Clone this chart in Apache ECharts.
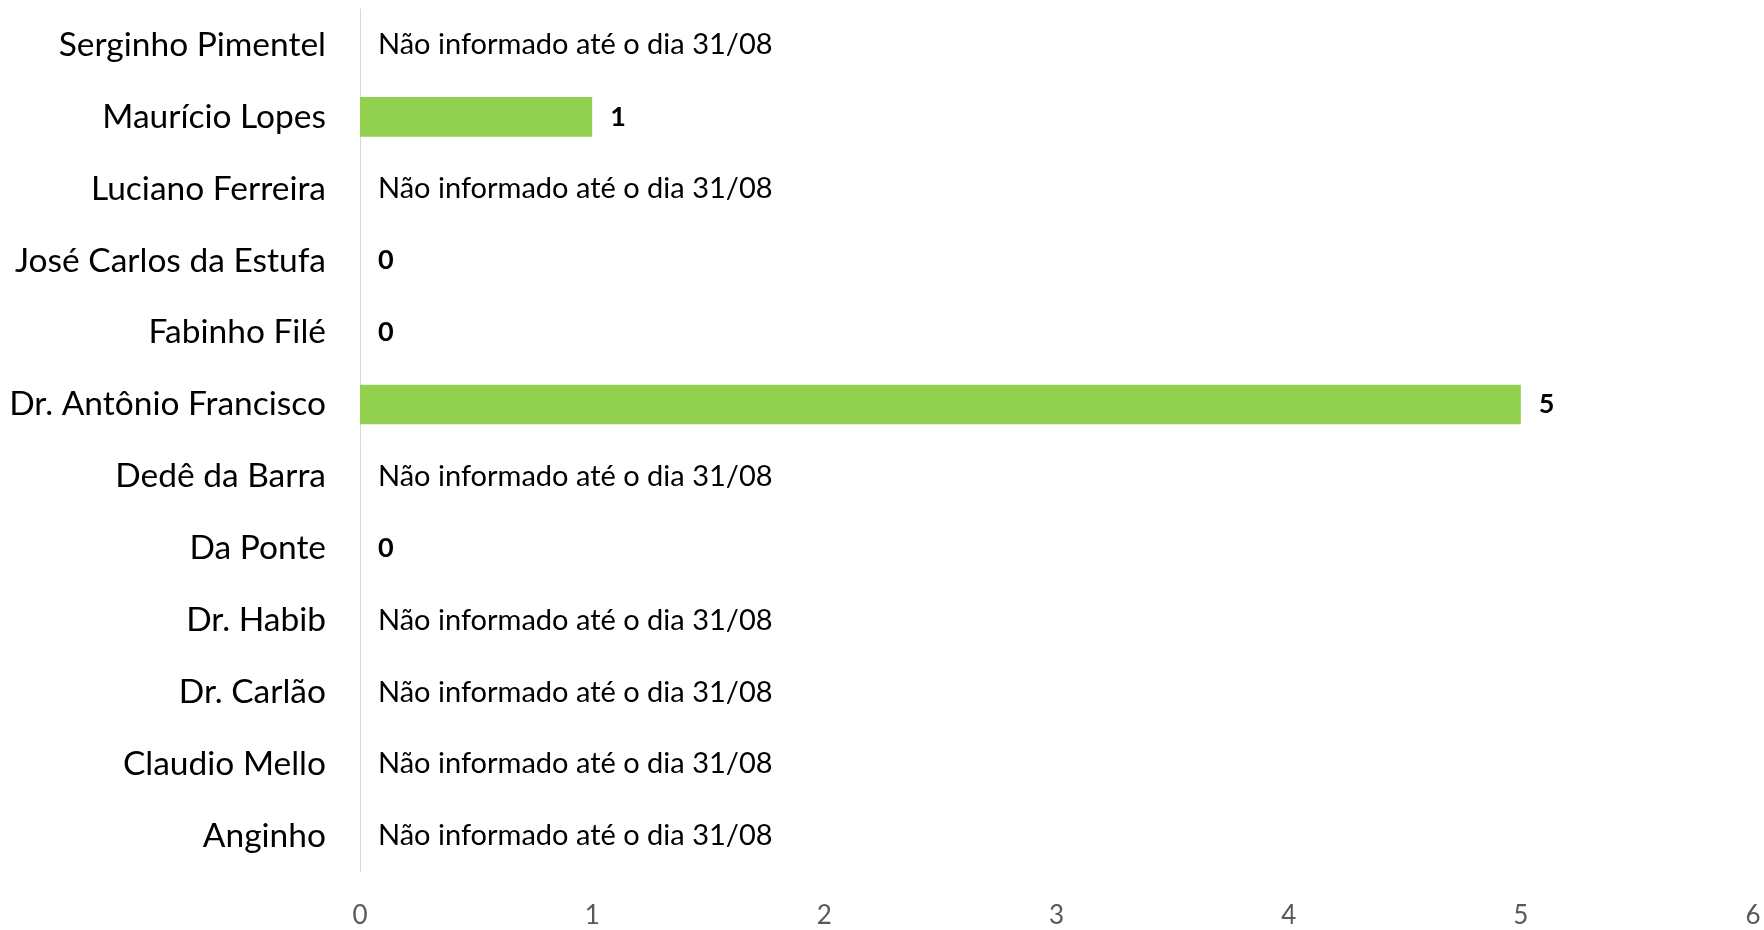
<!DOCTYPE html>
<html>
<head>
<meta charset="utf-8">
<script src="https://cdn.jsdelivr.net/npm/echarts@6/dist/echarts.min.js"></script>
<style>
html,body{margin:0;padding:0;background:#fff;}
#chart{width:1764px;height:930px;}
</style>
</head>
<body>
<div id="chart"></div>
<script>
// Categories from top to bottom
const categories = [
  "Serginho Pimentel",
  "Maurício Lopes",
  "Luciano Ferreira",
  "José Carlos da Estufa",
  "Fabinho Filé",
  "Dr. Antônio Francisco",
  "Dedê da Barra",
  "Da Ponte",
  "Dr. Habib",
  "Dr. Carlão",
  "Claudio Mello",
  "Anginho"
];
// null = not informed
const values = [null, 1, null, 0, 0, 5, null, 0, null, null, null, null];
const notInformedText = "Não informado até o dia 31/08";
const tickValues = [0, 1, 2, 3, 4, 5, 6];

const FONT = "Lato, 'Open Sans', sans-serif";

const seriesData = values.map(v => v === null
  ? { value: 0, label: { formatter: notInformedText, fontWeight: 'normal', fontSize: 29, color: '#000' } }
  : v);

const chart = echarts.init(document.getElementById('chart'));
chart.setOption({
  animation: false,
  grid: { left: 360, right: 11, top: 9, bottom: 58, containLabel: false },
  xAxis: {
    type: 'value',
    min: tickValues[0],
    max: tickValues[tickValues.length - 1],
    interval: 1,
    axisLine: { show: false },
    axisTick: { show: false },
    splitLine: { show: false },
    axisLabel: { color: '#595959', fontSize: 26, fontFamily: FONT, margin: 31 }
  },
  yAxis: {
    type: 'category',
    data: categories,
    inverse: true,
    axisLine: { show: true, lineStyle: { color: '#d9d9d9', width: 1 } },
    axisTick: { show: false },
    axisLabel: { color: '#000', fontSize: 33.5, fontFamily: FONT, margin: 34, padding: [4, 0, 0, 0] }
  },
  series: [{
    type: 'bar',
    data: seriesData,
    barCategoryGap: '45%',
    itemStyle: { color: '#92d050' },
    label: {
      show: true,
      position: 'right',
      distance: 18,
      fontSize: 27,
      fontWeight: 'bold',
      fontFamily: FONT,
      color: '#000',
      padding: [4, 0, 0, 0]
    }
  }]
});
</script>
</body>
</html>
